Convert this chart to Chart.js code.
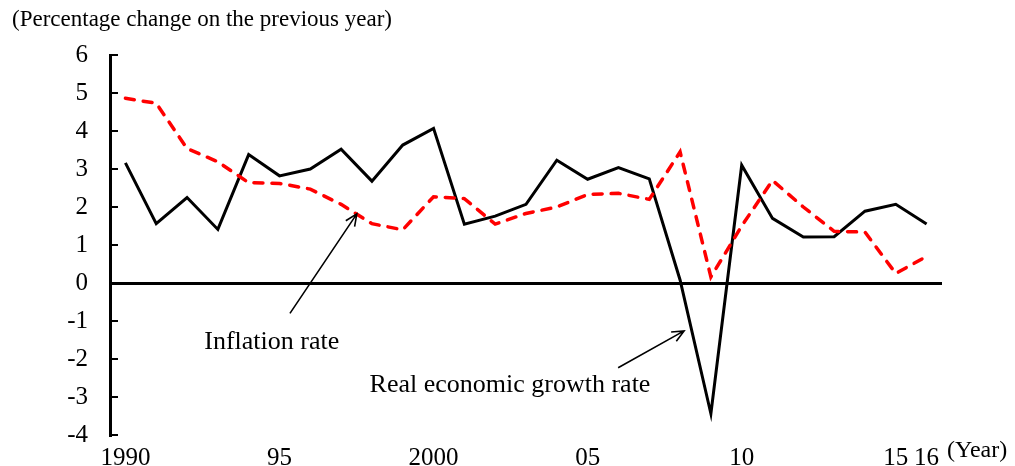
<!DOCTYPE html>
<html>
<head>
<meta charset="utf-8">
<script src="https://cdn.jsdelivr.net/npm/chart.js@4/dist/chart.umd.min.js"></script>
<style>
  html, body { margin: 0; padding: 0; background: #fff; }
  #wrap { position: relative; width: 1015px; height: 466px; }
</style>
</head>
<body>
<div id="wrap"><canvas id="chart" width="1015" height="466"></canvas></div>
<script>
var years = [1990, 1991, 1992, 1993, 1994, 1995, 1996, 1997, 1998, 1999,
             2000, 2001, 2002, 2003, 2004, 2005, 2006, 2007, 2008, 2009,
             2010, 2011, 2012, 2013, 2014, 2015, 2016];
var growth = [3.16, 1.56, 2.25, 1.41, 3.38, 2.82, 3.00, 3.52, 2.68, 3.63,
              4.07, 1.55, 1.76, 2.07, 3.23, 2.73, 3.04, 2.74, 0.08, -3.44,
              3.10, 1.70, 1.21, 1.22, 1.89, 2.07, 1.55];
var inflation = [4.86, 4.73, 3.54, 3.19, 2.64, 2.62, 2.47, 2.07, 1.56, 1.40,
                 2.27, 2.22, 1.55, 1.83, 2.00, 2.33, 2.36, 2.20, 3.45, 0.16,
                 1.50, 2.70, 2.00, 1.36, 1.34, 0.25, 0.70];
var tickYears = [1990, 1995, 2000, 2005, 2010, 2015, 2016];
var tickText = ['1990', '95', '2000', '05', '10', '15', '16'];

var serif = '"Liberation Serif", "Times New Roman", serif';

// arrows + labels, anchored in data units (category index, value)
var notes = [
  { text: 'Inflation rate', at: [4.75, -1.56], from: [5.34, -0.80], to: [7.51, 1.82] },
  { text: 'Real economic growth rate', at: [12.48, -2.70], from: [15.99, -2.23], to: [18.13, -1.26] }
];

var extras = {
  id: 'extras',
  afterDraw: function(chart) {
    var c = chart.ctx, xs = chart.scales.x, ys = chart.scales.y;
    c.save();
    // inward ticks on the y axis
    c.strokeStyle = '#000';
    c.lineWidth = 2;
    ys.ticks.forEach(function(t) {
      var py = ys.getPixelForValue(t.value);
      c.beginPath();
      c.moveTo(xs.left, py);
      c.lineTo(xs.left + 8, py);
      c.stroke();
    });
    // subtitle
    c.fillStyle = '#000';
    c.font = '23px ' + serif;
    c.textAlign = 'left';
    c.textBaseline = 'middle';
    c.fillText('(Percentage change on the previous year)', 12, 20);
    // notes
    c.font = '26px ' + serif;
    c.textAlign = 'center';
    c.lineWidth = 1.6;
    notes.forEach(function(n) {
      c.fillText(n.text, xs.getPixelForValue(n.at[0]), ys.getPixelForValue(n.at[1]));
      var x1 = xs.getPixelForValue(n.from[0]), y1 = ys.getPixelForValue(n.from[1]);
      var x2 = xs.getPixelForValue(n.to[0]), y2 = ys.getPixelForValue(n.to[1]);
      var a = Math.atan2(y2 - y1, x2 - x1), h = 13;
      c.beginPath();
      c.moveTo(x1, y1); c.lineTo(x2, y2);
      c.moveTo(x2 - h * Math.cos(a - 0.42), y2 - h * Math.sin(a - 0.42));
      c.lineTo(x2, y2);
      c.lineTo(x2 - h * Math.cos(a + 0.42), y2 - h * Math.sin(a + 0.42));
      c.stroke();
    });
    // year unit
    c.font = '24px ' + serif;
    c.fillText('(Year)', xs.getPixelForValue(27.64), ys.bottom + 16);
    c.restore();
  }
};

new Chart(document.getElementById('chart'), {
  type: 'line',
  data: {
    labels: years,
    datasets: [{
      label: 'Inflation rate',
      data: inflation,
      borderColor: '#ff0000',
      borderWidth: 3.5,
      borderDash: [9, 9],
      borderCapStyle: 'round',
      pointRadius: 0,
      tension: 0,
      fill: false
    }, {
      label: 'Real economic growth rate',
      data: growth,
      borderColor: '#000000',
      borderWidth: 3,
      borderJoinStyle: 'miter',
      pointRadius: 0,
      tension: 0,
      fill: false
    }]
  },
  options: {
    responsive: false,
    animation: false,
    layout: { padding: { top: 55, right: 73, bottom: 0, left: 0 } },
    plugins: {
      legend: { display: false },
      tooltip: { enabled: false }
    },
    scales: {
      x: {
        offset: true,
        grid: { display: false },
        border: { display: false },
        afterFit: function(s) { s.height = 31; },
        ticks: {
          autoSkip: false,
          maxRotation: 0,
          padding: 0,
          color: '#000',
          font: { family: serif, size: 25 },
          callback: function(v, i) {
            var k = tickYears.indexOf(years[i]);
            return k < 0 ? '' : tickText[k];
          }
        }
      },
      y: {
        min: -4,
        max: 6,
        afterFit: function(s) {
          s.width = 110;
          s.paddingTop = 0;
          s.paddingBottom = 0;
        },
        border: { display: true, color: '#000', width: 3 },
        grid: {
          drawTicks: false,
          lineWidth: 3,
          color: function(ctx) {
            return ctx.tick && ctx.tick.value === 0 ? '#000' : 'rgba(0,0,0,0)';
          }
        },
        ticks: {
          stepSize: 1,
          padding: 22,
          color: '#000',
          font: { family: serif, size: 25 }
        }
      }
    }
  },
  plugins: [extras]
});
</script>
</body>
</html>
